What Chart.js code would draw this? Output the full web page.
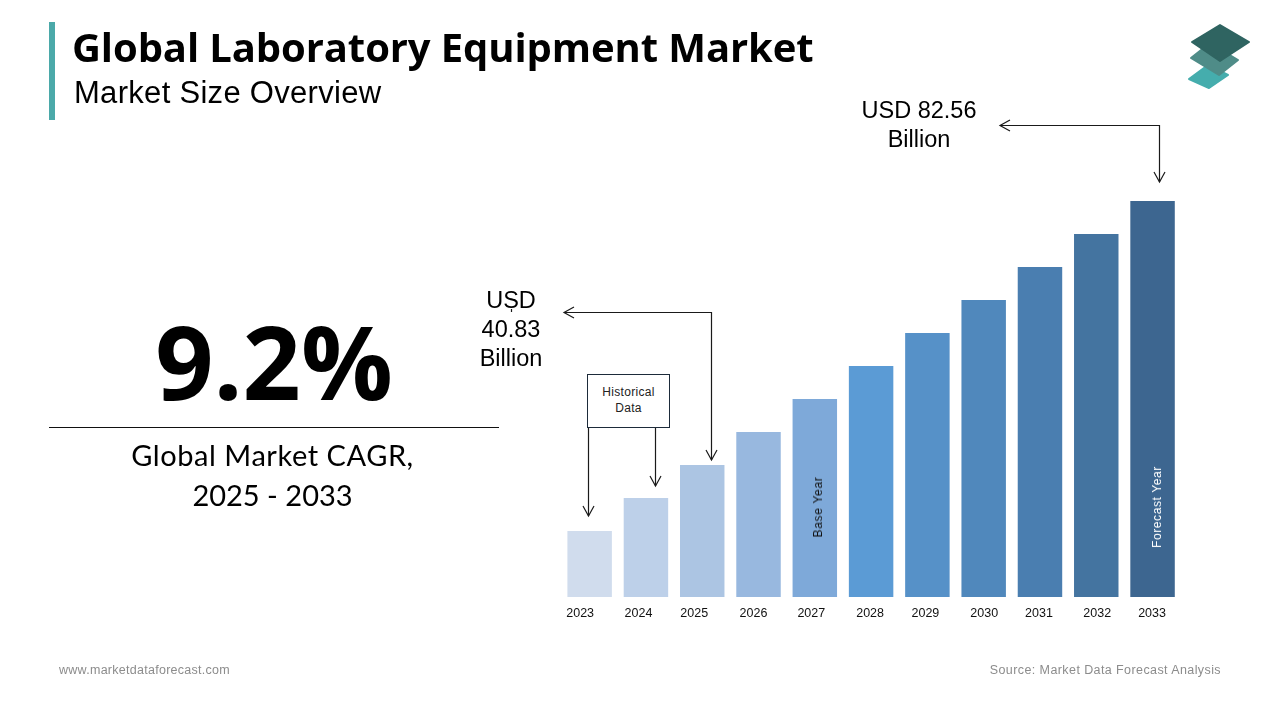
<!DOCTYPE html>
<html>
<head>
<meta charset="utf-8">
<title>Global Laboratory Equipment Market</title>
<script src="https://cdn.jsdelivr.net/npm/chart.js@4/dist/chart.umd.min.js"></script>
<style>
html,body{margin:0;padding:0;background:#fff;width:1280px;height:720px;overflow:hidden}
#wrap{position:relative;width:1280px;height:720px}
canvas#c{position:absolute;left:0;top:0}
.t{position:absolute;white-space:nowrap;color:#000}
.ar{font-family:"Liberation Sans",Arial,sans-serif}
.la{font-family:Lato,sans-serif}
.os{font-family:"Open Sans",sans-serif}
.ctr{text-align:center}
</style>
</head>
<body>
<div id="wrap">
<canvas id="c" width="1280" height="720"></canvas>
<div style="position:absolute;left:49px;top:22px;width:6px;height:98px;background:#4BA9A9"></div>
<div class="t os" style="left:72px;top:22px;font-size:40px;line-height:50px;font-weight:700;letter-spacing:-0.1px">Global Laboratory Equipment Market</div>
<div class="t ar" style="left:74px;top:74px;font-size:31px;line-height:38px;letter-spacing:.3px">Market Size Overview</div>
<div class="t os ctr" style="left:49px;width:450px;top:296px;font-size:102px;line-height:130px;font-weight:700">9.2%</div>
<div style="position:absolute;left:49px;top:427px;width:450px;height:1px;background:#111"></div>
<div class="t la ctr" style="left:49px;width:447px;top:435px;font-size:29px;line-height:40px"><span style="letter-spacing:.55px">Global Market CAGR,</span><br>2025 - 2033</div>
<div class="t ar ctr" style="left:820px;width:198px;top:96px;font-size:23.5px;line-height:29px">USD 82.56<br>Billion</div>
<div class="t ar ctr" style="left:462px;width:98px;top:286px;font-size:23.5px;line-height:29px">USD<br>40.83<br>Billion</div>
<div class="t ar ctr" style="left:587px;top:374px;width:81px;height:52px;border:1px solid #1d2b3a;font-size:12px;line-height:16px;background:#fff"><div style="margin-top:9px;color:#222;letter-spacing:.3px">Historical<br>Data</div></div>
<div class="t ar" style="left:818px;top:507px;font-size:12px;line-height:14px;letter-spacing:.7px;color:#111;transform:translate(-50%,-50%) rotate(-90deg)">Base Year</div>
<div class="t ar" style="left:1157px;top:507px;font-size:12px;line-height:14px;letter-spacing:.6px;color:#fff;transform:translate(-50%,-50%) rotate(-90deg)">Forecast Year</div>
<div class="t ar" style="left:59px;top:663px;font-size:12.5px;line-height:15px;letter-spacing:.27px;color:#8c8c8c">www.marketdataforecast.com</div>
<div class="t ar" style="right:59px;top:663px;font-size:12.5px;line-height:15px;letter-spacing:.41px;color:#8c8c8c">Source: Market Data Forecast Analysis</div>
<svg style="position:absolute;left:1180px;top:20px" width="80" height="75" viewBox="0 0 80 75">
<polygon points="9,59 28,45 48,55 29,68" fill="#45ADAD" stroke="#45ADAD" stroke-width="2" stroke-linejoin="round"/>
<polygon points="11,38 30,23 58,40 39,55" fill="#4F8C88" stroke="#4F8C88" stroke-width="2" stroke-linejoin="round"/>
<polygon points="40,5 69,22 40,41 12,22" fill="#2F6461" stroke="#2F6461" stroke-width="2" stroke-linejoin="round"/>
</svg>
</div>
<script>
const categories = ["2023","2024","2025","2026","2027","2028","2029","2030","2031","2032","2033"];
// Drawn bar heights (the bars are not to scale with the USD callouts).
const barHeights = [66, 99, 132, 165, 198, 231, 264, 297, 330, 363, 396];
const barColors = ["#D0DCED","#BDD0E9","#ACC5E3","#98B8DF","#7EA9D9","#5B9BD5","#5691C8","#5088BC","#4A7EB0","#4474A0","#3D6690"];
const tickShift = [-9.5,-7.5,-8,-5,-3.5,-1,-2,0.5,-1,1,-0.5];

function arrowHead(ctx,x,y,dx,dy){
  const L=10,W=5.5;
  ctx.beginPath();
  ctx.moveTo(x-dx*L-dy*W,y-dy*L-dx*W);
  ctx.lineTo(x,y);
  ctx.lineTo(x-dx*L+dy*W,y-dy*L+dx*W);
  ctx.stroke();
}
const connectors = {
  id:'connectors',
  afterLayout(chart){
    const x=chart.scales.x;
    x.getLabelItems().forEach((it,i)=>{ it.options.translation[0]+=tickShift[i]; });
  },
  afterDraw(chart){
    const ctx=chart.ctx, x=chart.scales.x, y=chart.scales.y;
    const px=i=>x.getPixelForValue(i), py=i=>y.getPixelForValue(barHeights[i]);
    ctx.save();
    ctx.strokeStyle='#1a1a1a'; ctx.lineWidth=1.2;
    const path=(pts)=>{ctx.beginPath();pts.forEach((p,i)=>i?ctx.lineTo(p[0],p[1]):ctx.moveTo(p[0],p[1]));ctx.stroke();};
    const a0=Math.round(px(0)-2)+.5, a1=Math.round(px(1)+9)+.5;
    path([[a0,427],[a0,py(0)-15]]); arrowHead(ctx,a0,py(0)-15,0,1);
    path([[a1,427],[a1,py(1)-12]]); arrowHead(ctx,a1,py(1)-12,0,1);
    const a2=Math.round(px(2)+9)+.5;
    path([[564,312.5],[a2,312.5],[a2,py(2)-5]]);
    arrowHead(ctx,564,312.5,-1,0); arrowHead(ctx,a2,py(2)-5,0,1);
    const a3=Math.round(px(10)+7)-.5;
    path([[1000,125.5],[a3,125.5],[a3,py(10)-19]]);
    arrowHead(ctx,1000,125.5,-1,0); arrowHead(ctx,a3,py(10)-19,0,1);
    path([[511.5,309],[511.5,312]]);
    ctx.restore();
  }
};
new Chart(document.getElementById('c'),{
  type:'bar',
  data:{labels:categories,datasets:[{data:barHeights,backgroundColor:barColors,borderWidth:0,barPercentage:0.79,categoryPercentage:1}]},
  options:{
    responsive:false,animation:false,devicePixelRatio:1,
    layout:{padding:{left:561.5,right:99.3,top:197,bottom:0}},
    plugins:{legend:{display:false},title:{display:false},tooltip:{enabled:false}},
    scales:{
      x:{grid:{display:false,drawTicks:false},border:{display:false},
         ticks:{color:'#111',font:{family:'"Liberation Sans"',size:12.5},padding:9,maxRotation:0,autoSkip:false},
         afterFit(s){s.height=123;}},
      y:{display:false,min:0,max:400}
    }
  },
  plugins:[connectors]
});
</script>
</body>
</html>
